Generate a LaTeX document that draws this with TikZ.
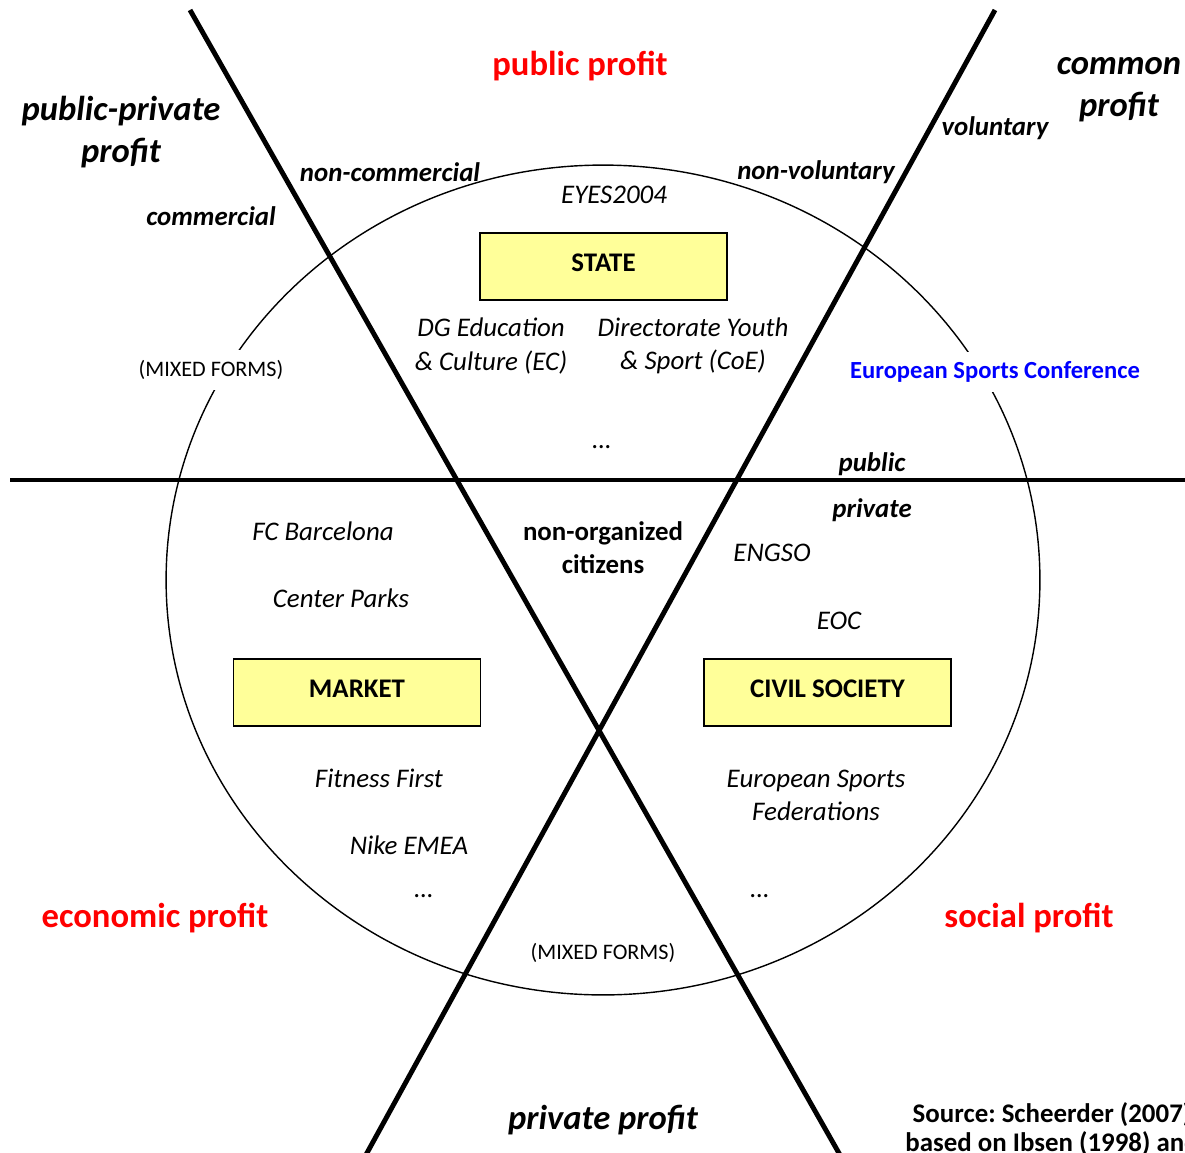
\documentclass[tikz,border=0pt]{standalone}
\usepackage{fontspec}
\setmainfont{Carlito}
\definecolor{boxyellow}{RGB}{255, 255, 153}
\definecolor{profitred}{RGB}{255, 0, 0}
\definecolor{confblue}{RGB}{0, 0, 255}
\newcommand{\profitsize}{\fontsize{19.7}{23.8}\selectfont}
\newcommand{\entrysize}{\fontsize{15.3}{18.9}\selectfont}
\newcommand{\mixedsize}{\fontsize{12.6}{15}\selectfont}
\tikzset{
  ring/.style={
    line width=0.8pt, draw=black
  },
  axisline/.style={
    line width=2.8pt, line cap=butt, draw=black
  },
  sectorbox/.style={
    rectangle, draw=black, line width=1pt, fill=boxyellow,
    minimum width=4.94cm, minimum height=1.34cm,
    text height=0.35cm, text depth=0.16cm,
    font=\entrysize\bfseries, text centered
  },
  profitlabel/.style={
    inner sep=0pt, align=center,
    font=\profitsize\bfseries
  },
  edgelabel/.style={
    inner sep=0pt, align=center,
    font=\entrysize\bfseries\itshape
  },
  entry/.style={
    inner sep=0pt, align=center,
    font=\entrysize\itshape
  },
  mixedlabel/.style={
    fill=white, inner xsep=3pt, inner ysep=0.2cm,
    font=\mixedsize
  }
}
\begin{document}
\begin{tikzpicture}[x=0.02cm, y=-0.02cm]

  % ── Frame ──────────────────────────────────────────────
  \useasboundingbox (0,0) rectangle (1185,1152);
  \clip (0,0) rectangle (1185,1152);

  % ── Circle ─────────────────────────────────────────────
  \draw[ring] (603,580) ellipse [x radius=8.74cm, y radius=8.3cm];

  % ── Axes ───────────────────────────────────────────────
  \coordinate (westend) at (10,480);
  \coordinate (eastend) at (1195,480);
  \coordinate (nwend)   at (190,10);
  \coordinate (seend)   at (844,1162);
  \coordinate (neend)   at (995,10);
  \coordinate (swend)   at (362,1162);
  \draw[axisline] (westend) -- (eastend);
  \draw[axisline] (nwend)   -- (seend);
  \draw[axisline] (neend)   -- (swend);

  % ── Profit labels ──────────────────────────────────────
  \node[profitlabel, text=profitred] (pubprofit)  at (580,66)   {public profit};
  \node[profitlabel, font=\profitsize\bfseries\itshape]
    (pubpriv)    at (121,132)  {public-private\\profit};
  \node[profitlabel, font=\profitsize\bfseries\itshape]
    (common)     at (1119,90)  {common\\profit};
  \node[profitlabel, text=profitred] (econprofit) at (155,918)  {economic profit};
  \node[profitlabel, text=profitred] (socprofit)  at (1029,918) {social profit};
  \node[profitlabel, font=\profitsize\bfseries\itshape]
    (privprofit) at (603,1120) {private profit};

  % ── Edge labels ────────────────────────────────────────
  \node[edgelabel] (noncomm) at (390,172) {non-commercial};
  \node[edgelabel] (comm)    at (211,216) {commercial};
  \node[edgelabel] (nonvol)  at (816,172) {non-voluntary};
  \node[edgelabel] (vol)     at (995,128) {voluntary};
  \node[edgelabel] (public)  at (872,464) {public};
  \node[edgelabel] (private) at (872,510) {private};

  % ── Sector boxes ───────────────────────────────────────
  \node[sectorbox] (state)  at (603.5,266.5) {STATE};
  \node[sectorbox] (market) at (357,692.5)   {MARKET};
  \node[sectorbox] (civil)  at (827.5,692.5) {CIVIL SOCIETY};

  % ── State entries ──────────────────────────────────────
  \node[entry] (eyes)   at (614,195) {EYES2004};
  \node[entry] (dgedu)  at (491,346) {DG Education\\\& Culture (EC)};
  \node[entry] (dircoe) at (693,346) {Directorate Youth\\\& Sport (CoE)};
  \node[entry, anchor=base] (statedots) at (602,448) {\dots};

  % ── Market entries ─────────────────────────────────────
  \node[entry] (fcb)     at (323,531) {FC Barcelona};
  \node[entry] (parks)   at (341,598) {Center Parks};
  \node[entry] (fitness) at (379,778) {Fitness First};
  \node[entry] (nike)    at (409,845) {Nike EMEA};
  \node[entry, anchor=base] (marketdots) at (424,897) {\dots};

  % ── Civil society entries ──────────────────────────────
  \node[entry] (engso) at (772,553) {ENGSO};
  \node[entry] (eoc)   at (839,621) {EOC};
  \node[entry] (esf)   at (816,795) {European Sports\\Federations};
  \node[entry, anchor=base] (civildots) at (760,897) {\dots};

  % ── Centre and mixed forms ─────────────────────────────
  \node[edgelabel, font=\entrysize\bfseries] (nonorg) at (603,548)
    {non-organized\\citizens};
  \node[mixedlabel] (mixedwest)  at (211,370) {(MIXED FORMS)};
  \node[mixedlabel, fill=none] (mixedsouth) at (603,953) {(MIXED FORMS)};
  \node[mixedlabel, font=\fontsize{14}{17}\selectfont\bfseries,
        text=confblue] (esc) at (995,372) {European Sports Conference};

  % ── Source ─────────────────────────────────────────────
  \node[align=center, inner sep=0pt,
        font=\fontsize{15.3}{16.4}\selectfont\bfseries\frenchspacing]
    (source) at (1052,1129) {Source: Scheerder (2007)\\based on Ibsen (1998) and};

\end{tikzpicture}
\end{document}
